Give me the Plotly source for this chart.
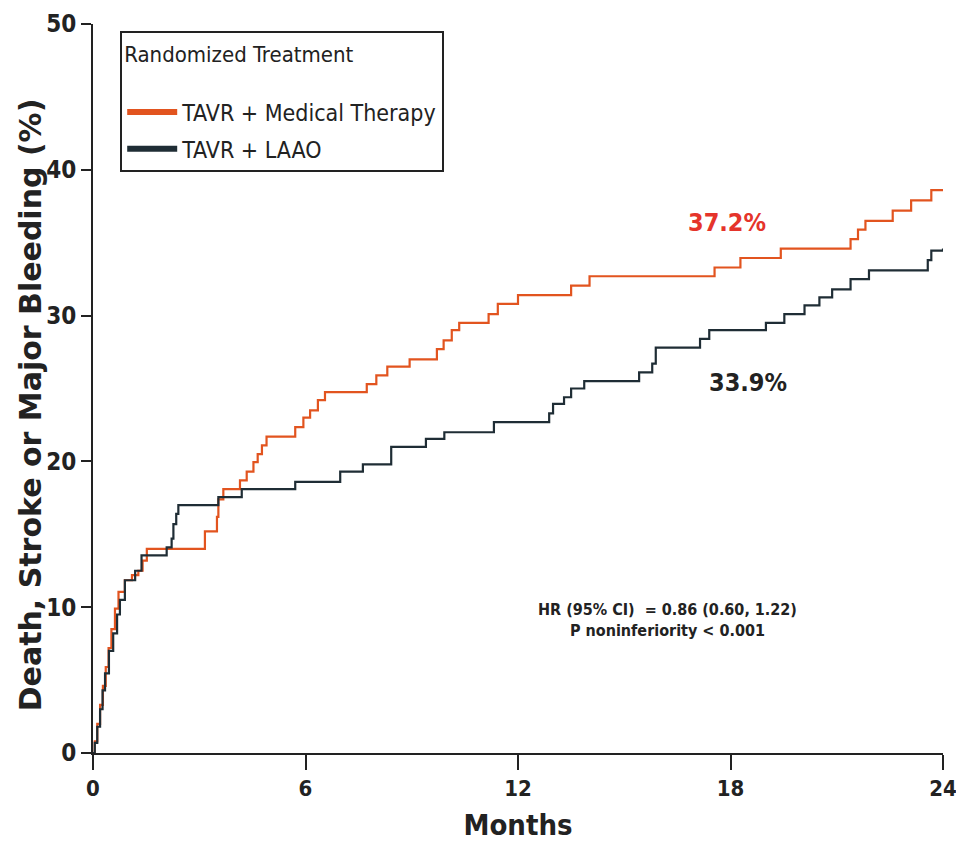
import plotly.graph_objects as go

# ---- data ----
months_med = [0, 0.05, 0.12, 0.2, 0.28, 0.36, 0.44, 0.52, 0.62, 0.72, 0.9, 1.1, 1.28, 1.4, 1.52,
              3.16, 3.5, 3.54, 3.68, 4.15, 4.34, 4.53, 4.65, 4.77, 4.9, 5.71, 5.94, 6.13, 6.35, 6.55,
              7.73, 8.0, 8.31, 8.94, 9.71, 9.9, 10.13, 10.34, 11.17, 11.43, 12.0, 13.5, 14.02,
              17.55, 18.28, 19.42, 21.39, 21.6, 21.81, 22.58, 23.1, 23.67, 24.0]
risk_med = [0, 0.8, 2.0, 3.3, 4.6, 5.9, 7.2, 8.5, 9.9, 11.05, 11.85, 12.2, 12.5, 13.2, 14.0,
            15.2, 16.2, 17.4, 18.1, 18.7, 19.3, 19.95, 20.5, 21.1, 21.7, 22.35, 23.0, 23.5, 24.2, 24.75,
            25.3, 25.9, 26.5, 27.0, 27.7, 28.3, 29.0, 29.5, 30.1, 30.8, 31.4, 32.05, 32.7,
            33.3, 33.95, 34.6, 35.25, 35.9, 36.5, 37.2, 37.9, 38.6, 38.6]

months_laao = [0, 0.05, 0.12, 0.2, 0.27, 0.34, 0.45, 0.57, 0.68, 0.76, 0.9, 1.19, 1.37, 2.08, 2.22,
               2.27, 2.35, 2.41, 3.54, 4.2, 5.71, 6.98, 7.62, 8.42, 9.4, 9.92, 11.32, 12.88, 12.99,
               13.3, 13.5, 13.87, 15.42, 15.79, 15.89, 17.14, 17.4, 19.0, 19.52, 20.09, 20.51, 20.87,
               21.39, 21.91, 23.57, 23.67, 24.0]
risk_laao = [0, 0.7, 1.8, 3.0, 4.3, 5.46, 7.0, 8.2, 9.5, 10.5, 11.85, 12.5, 13.56, 14.1, 14.7,
             15.7, 16.4, 17.0, 17.55, 18.1, 18.6, 19.3, 19.8, 21.0, 21.55, 22.0, 22.7, 23.3, 23.95,
             24.4, 25.0, 25.5, 26.1, 26.7, 27.8, 28.4, 29.0, 29.5, 30.1, 30.7, 31.25, 31.8,
             32.5, 33.1, 33.8, 34.45, 34.6]

series_names = ["TAVR + Medical Therapy", "TAVR + LAAO"]
x_ticks = [0, 6, 12, 18, 24]
y_ticks = [0, 10, 20, 30, 40, 50]
label_med = "37.2%"
label_laao = "33.9%"
hr_lines = ["HR (95% CI)  = 0.86 (0.60, 1.22)", "P noninferiority < 0.001"]
y_title = "Death, Stroke or Major Bleeding (%)"
x_title = "Months"

ORANGE = "#E2541F"
DARK = "#1F2D35"
RED_TXT = "#E5342B"
TXT = "#222222"
NARROW = "DejaVu Sans Condensed, sans-serif"

fig = go.Figure()
fig.add_trace(go.Scatter(x=months_med, y=risk_med, mode="lines", line_shape="hv",
                         line=dict(color=ORANGE, width=2.2), showlegend=False,
                         name=series_names[0]))
fig.add_trace(go.Scatter(x=months_laao, y=risk_laao, mode="lines", line_shape="hv",
                         line=dict(color=DARK, width=2.2), showlegend=False,
                         name=series_names[1]))
# legend entries (thick swatches)
fig.add_trace(go.Scatter(x=[None], y=[None], mode="lines", legendgroup="a",
                         line=dict(color=ORANGE, width=6), name=series_names[0]))
fig.add_trace(go.Scatter(x=[None], y=[None], mode="lines", legendgroup="b",
                         line=dict(color=DARK, width=6), name=series_names[1]))

fig.add_annotation(x=17.9, y=36.4, text="<b>" + label_med + "</b>", showarrow=False,
                   font=dict(family=NARROW, size=25, color=RED_TXT))
fig.add_annotation(x=18.5, y=25.4, text="<b>" + label_laao + "</b>", showarrow=False,
                   font=dict(family=NARROW, size=25, color=TXT))
fig.add_annotation(x=16.23, y=9.1, text="<br>".join("<b>%s</b>" % s for s in hr_lines),
                   showarrow=False, align="center",
                   font=dict(family=NARROW, size=16, color=TXT))
# y-axis title
fig.add_annotation(xref="paper", yref="paper", x=-0.074, y=0.477, textangle=-90,
                   xanchor="center", yanchor="middle",
                   text="<b>%s</b>" % y_title, showarrow=False,
                   font=dict(family="DejaVu Sans, sans-serif", size=30, color=TXT))

fig.update_layout(
    width=956, height=853,
    margin=dict(l=93, r=13, t=24, b=100),
    paper_bgcolor="white", plot_bgcolor="white",
    font=dict(family=NARROW, color=TXT),
    legend=dict(
        x=0.032, y=0.990, xanchor="left", yanchor="top",
        bordercolor=TXT, borderwidth=2, bgcolor="white",
        traceorder="grouped", tracegroupgap=4,
        title=dict(text="Randomized Treatment<br><span style='font-size:6px'> </span>",
                   font=dict(family=NARROW, size=22, color=TXT)),
        font=dict(family=NARROW, size=23, color=TXT),
        itemwidth=50,
    ),
    xaxis=dict(
        range=[0, 24], tickvals=x_ticks, ticktext=["<b>%d</b>" % v for v in x_ticks],
        showgrid=False, zeroline=False, showline=True, linecolor=TXT, linewidth=2,
        ticks="outside", ticklen=15, tickwidth=2, tickcolor=TXT,
        ticklabeloverflow="allow", automargin=False,
        tickfont=dict(family=NARROW, size=22, color=TXT),
        title=dict(text="<b>%s</b>" % x_title, standoff=14,
                   font=dict(family=NARROW, size=29, color=TXT)),
    ),
    yaxis=dict(
        range=[0, 50], tickvals=y_ticks, ticktext=["<b>%d</b>" % v for v in y_ticks],
        showgrid=False, zeroline=False, showline=True, linecolor=TXT, linewidth=2,
        ticks="outside", ticklen=10, tickwidth=2, tickcolor=TXT,
        ticklabeloverflow="allow", automargin=False,
        tickfont=dict(family=NARROW, size=24, color=TXT),
    ),
)

fig.write_html("out.html")
